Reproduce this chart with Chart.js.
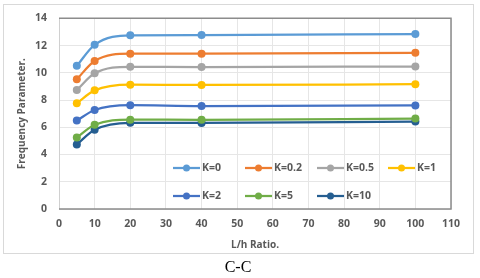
<!DOCTYPE html>
<html>
<head>
<meta charset="utf-8">
<script src="https://cdn.jsdelivr.net/npm/chart.js@4"></script>
<style>
  html, body { margin: 0; padding: 0; background: #ffffff; }
  #wrap { position: relative; width: 480px; height: 278px; }
  canvas { display: block; }
</style>
</head>
<body>
<div id="wrap"><canvas id="c" width="480" height="278"></canvas></div>
<script>
const ratios = [5, 10, 20, 40, 100];
const seriesLabels = ['K=0', 'K=0.2', 'K=0.5', 'K=1', 'K=2', 'K=5', 'K=10'];
const k0   = [10.51, 12.05, 12.75, 12.77, 12.84];
const k02  = [9.52, 10.87, 11.40, 11.40, 11.47];
const k05  = [8.73, 9.96, 10.44, 10.42, 10.46];
const k1   = [7.77, 8.71, 9.13, 9.11, 9.16];
const k2   = [6.49, 7.27, 7.62, 7.56, 7.60];
const k5   = [5.24, 6.18, 6.56, 6.55, 6.64];
const k10  = [4.74, 5.82, 6.33, 6.32, 6.42];
const xTicks = [0, 10, 20, 30, 40, 50, 60, 70, 80, 90, 100, 110];
const yTicks = [0, 2, 4, 6, 8, 10, 12, 14];
const colors = ['#5B9BD5', '#ED7D31', '#A5A5A5', '#FFC000', '#4472C4', '#70AD47', '#255E91'];
const allSeries = [k0, k02, k05, k1, k2, k5, k10];

const FONT = '"Open Sans", "Noto Sans", sans-serif';
const TXT = '#595959';

const datasets = allSeries.map((vals, i) => ({
  label: seriesLabels[i],
  data: ratios.map((x, j) => ({ x: x, y: vals[j] })),
  borderColor: colors[i],
  backgroundColor: colors[i],
  borderWidth: 2.25,
  pointRadius: 4,
  pointHoverRadius: 4,
  pointBorderWidth: 0,
  cubicInterpolationMode: 'monotone',
  fill: false
}));

const decor = {
  id: 'decor',
  beforeDraw(chart) {
    const ctx = chart.ctx;
    ctx.save();
    ctx.fillStyle = '#ffffff';
    ctx.fillRect(0, 0, chart.width, chart.height);
    ctx.strokeStyle = '#d9d9d9';
    ctx.lineWidth = 1;
    ctx.strokeRect(3.5, 4.5, 470, 249);
    ctx.restore();
  },
  afterDatasetsDraw(chart) {
    const ctx = chart.ctx;
    const a = chart.chartArea;
    ctx.save();
    ctx.strokeStyle = '#d0d0d0';
    ctx.lineWidth = 1;
    ctx.beginPath();
    ctx.moveTo(a.left + 0.5, a.top);
    ctx.lineTo(a.left + 0.5, a.bottom);
    ctx.stroke();
    ctx.strokeStyle = '#8c8c8c';
    ctx.lineWidth = 1.5;
    ctx.beginPath();
    ctx.moveTo(a.left, a.top);
    ctx.lineTo(a.right, a.top);
    ctx.lineTo(a.right, a.bottom);
    ctx.lineTo(a.left, a.bottom);
    ctx.stroke();

    const cols = [173, 245, 317, 388];
    const rows = [168, 196];
    ctx.font = 'bold 10.5px ' + FONT;
    ctx.textBaseline = 'middle';
    ctx.textAlign = 'left';
    chart.data.datasets.forEach((ds, i) => {
      const r = i < 4 ? 0 : 1;
      const c = i < 4 ? i : i - 4;
      const x = cols[c], y = rows[r];
      ctx.strokeStyle = ds.borderColor;
      ctx.lineWidth = 2.25;
      ctx.beginPath();
      ctx.moveTo(x, y);
      ctx.lineTo(x + 27, y);
      ctx.stroke();
      ctx.fillStyle = ds.borderColor;
      ctx.beginPath();
      ctx.arc(x + 13.5, y, 3.5, 0, Math.PI * 2);
      ctx.fill();
      ctx.fillStyle = TXT;
      ctx.fillText(ds.label, x + 29, y + 0.5);
    });

    ctx.fillStyle = '#000000';
    ctx.font = '16px "Liberation Serif", "DejaVu Serif", serif';
    ctx.textAlign = 'center';
    ctx.fillText('C-C', 238, 268);
    ctx.restore();
  }
};

new Chart(document.getElementById('c'), {
  type: 'line',
  data: { datasets: datasets },
  options: {
    responsive: false,
    animation: false,
    devicePixelRatio: 1,
    layout: { padding: { left: 12, right: 29, top: 9, bottom: 25 } },
    plugins: {
      legend: { display: false },
      tooltip: { enabled: false }
    },
    scales: {
      x: {
        type: 'linear',
        min: 0, max: 110,
        afterBuildTicks(s) { s.ticks = xTicks.map(v => ({ value: v })); },
        afterFit(s) { s.height = 44; },
        grid: { color: '#e6e6e6', lineWidth: 1, drawTicks: false },
        border: { display: false },
        ticks: { color: TXT, font: { family: FONT, size: 10.5, weight: 'bold' }, padding: 9, maxRotation: 0 },
        title: { display: true, text: 'L/h Ratio.', color: TXT, font: { family: FONT, size: 10, weight: 'bold' }, padding: { top: 0, bottom: 2 } }
      },
      y: {
        min: 0, max: 14,
        afterBuildTicks(s) { s.ticks = yTicks.map(v => ({ value: v })); },
        afterFit(s) { s.width = 47; },
        grid: { color: '#e6e6e6', lineWidth: 1, drawTicks: false },
        border: { display: false },
        ticks: { color: TXT, font: { family: FONT, size: 10.5, weight: 'bold' }, padding: 12 },
        title: { display: true, text: 'Frequency Parameter.', color: TXT, font: { family: FONT, size: 10, weight: 'bold' }, padding: { top: 4, bottom: 0 } }
      }
    }
  },
  plugins: [decor]
});
</script>
</body>
</html>
